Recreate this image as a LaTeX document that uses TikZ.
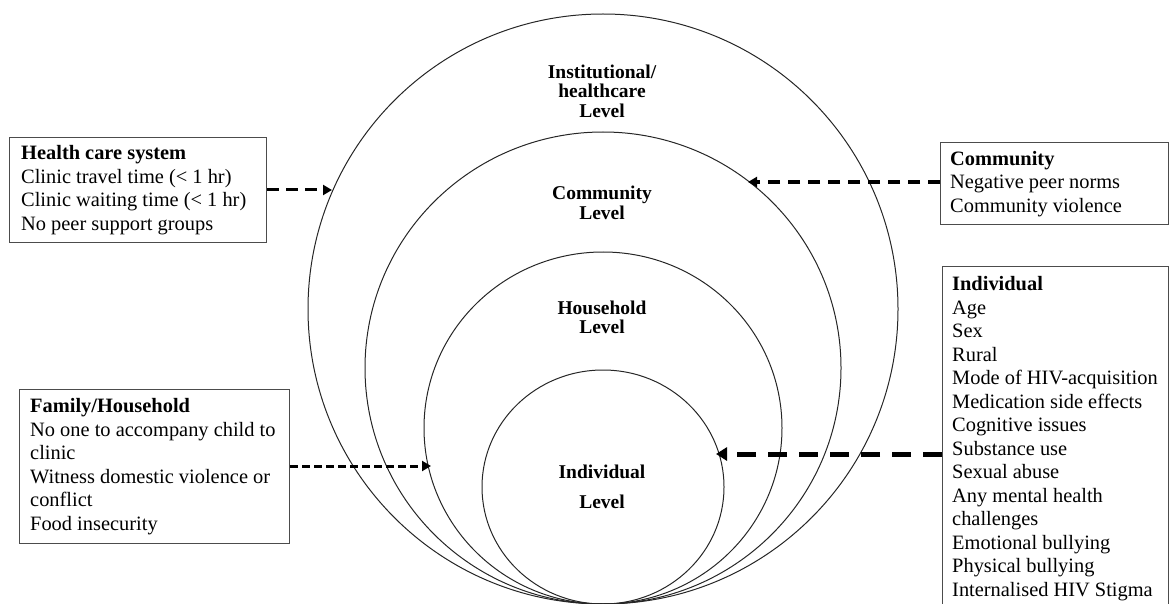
\documentclass[tikz,border=0pt]{standalone}
\usepackage{fontspec}
\setmainfont{Liberation Serif}
\usetikzlibrary{arrows.meta,shapes.geometric}
\begin{document}
\begin{tikzpicture}[x=1pt,y=-1pt,
  ring/.style={draw=black!85, line width=1pt, ellipse, inner sep=0pt},
  lvl/.style={font=\fontsize{19.5}{19.5}\selectfont\bfseries, align=center, inner sep=0pt},
  boxframe/.style={draw=black!70, line width=1.3pt, rectangle, anchor=north west, inner sep=0pt},
  boxtext/.style={anchor=west, align=left, inner sep=0pt, font=\fontsize{20.4}{23.5}\selectfont},
  dasharrow/.style={line width=3pt, -{Triangle[length=9pt,width=10pt]}},
]
\useasboundingbox (0,0) rectangle (1170,604);

% nested levels
\node[ring, minimum width=590pt, minimum height=590pt] (outer) at (603,309) {};
\node[ring, minimum width=476pt, minimum height=472pt] (comm) at (603,368) {};
\node[ring, minimum width=358pt, minimum height=352pt] (house) at (603,428) {};
\node[ring, minimum width=242pt, minimum height=234pt] (indiv) at (603,487) {};

\node[lvl] (lvlinst) at (602,91) {Institutional/\\healthcare\\Level};
\node[lvl] (lvlcomm) at (602,203) {Community\\Level};
\node[lvl] (lvlhouse) at (602,317.5) {Household\\Level};
\node[lvl, font=\fontsize{19.5}{30}\selectfont\bfseries] (lvlind) at (602,487) {Individual\\Level};

% boxes
\node[boxframe, minimum width=257pt, minimum height=105pt] (hcbox) at (9,137) {};
\node[boxtext] (hctext) at ([xshift=12pt]hcbox.west) {\textbf{Health care system}\\Clinic travel time (< 1 hr)\\Clinic waiting time (< 1 hr)\\No peer support groups};

\node[boxframe, minimum width=228pt, minimum height=82pt] (combox) at (940,142) {};
\node[boxtext] (comtext) at ([xshift=10pt]combox.west) {\textbf{Community}\\Negative peer norms\\Community violence};

\node[boxframe, minimum width=270pt, minimum height=154pt] (fambox) at (19,389) {};
\node[boxtext] (famtext) at ([xshift=11pt]fambox.west) {\textbf{Family/Household}\\No one to accompany child to\\clinic\\Witness domestic violence or\\conflict\\Food insecurity};

\node[boxframe, minimum width=226pt, minimum height=344pt] (indbox) at (942,266) {};
\node[boxtext] (indtext) at ([xshift=10pt]indbox.west) {\textbf{Individual}\\Age\\Sex\\Rural\\Mode of HIV-acquisition\\Medication side effects\\Cognitive issues\\Substance use\\Sexual abuse\\Any mental health\\challenges\\Emotional bullying\\Physical bullying\\Internalised HIV Stigma};

% arrow ends on the rings
\coordinate (hctip) at (332,190);
\coordinate (comtip) at (748,182);
\coordinate (famtip) at (431,466);
\coordinate (indtip) at (716,454);

\draw[dasharrow, dash pattern=on 12pt off 7pt] (hcbox.east |- hctip) -- (hctip);
\draw[dasharrow, line width=3.5pt, dash pattern=on 12pt off 8pt] (combox.west |- comtip) -- (comtip);
\draw[dasharrow, dash pattern=on 8pt off 4pt] (fambox.east |- famtip) -- (famtip);
\draw[dasharrow, line width=5pt, dash pattern=on 19pt off 12pt, -{Triangle[length=11pt,width=13pt]}] (indbox.west |- indtip) -- (indtip);
\end{tikzpicture}
\end{document}
